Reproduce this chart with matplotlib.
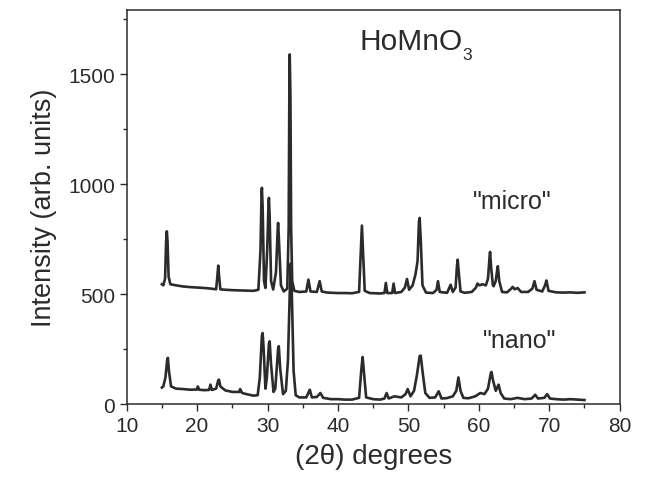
import matplotlib
matplotlib.use("Agg")
import matplotlib.pyplot as plt
from matplotlib.ticker import MultipleLocator

# XRD pattern of the "micro" sample (2theta, intensity)
micro_x = [15.0, 15.2, 15.45, 15.6, 15.7, 15.8, 15.95, 16.2, 17.0, 18.0, 19.0, 20.0,
           21.0, 22.0, 22.7, 22.9, 23.0, 23.1, 23.3, 24.0, 25.0, 26.0, 27.0, 28.0,
           28.7, 29.0, 29.15, 29.2, 29.3, 29.5, 29.7, 29.95, 30.15, 30.2, 30.3, 30.5,
           30.8, 31.2, 31.45, 31.5, 31.6, 31.9, 32.3, 32.8, 33.0, 33.1, 33.15, 33.25,
           33.35, 33.5, 33.8, 34.5, 35.5, 35.8, 36.1, 37.0, 37.4, 37.7, 38.5, 40.0,
           41.0, 42.0, 43.0, 43.25, 43.4, 43.55, 43.8, 44.5, 46.0, 46.6, 46.8, 47.0,
           47.7, 47.9, 48.1, 49.0, 49.5, 49.8, 50.1, 50.6, 51.0, 51.3, 51.5, 51.6,
           51.75, 52.0, 52.5, 53.5, 54.0, 54.2, 54.45, 55.5, 56.0, 56.3, 56.7, 56.9,
           57.0, 57.15, 57.4, 58.0, 59.0, 59.6, 59.8, 60.1, 60.5, 61.0, 61.3, 61.55,
           61.6, 61.75, 62.0, 62.1, 62.4, 62.65, 62.7, 62.9, 63.3, 64.0, 64.6, 64.8,
           65.1, 65.5, 66.0, 67.0, 67.6, 67.9, 68.2, 69.0, 69.4, 69.6, 69.9, 71.0,
           72.0, 73.0, 74.0, 75.0]
micro_y = [545, 540, 570, 740, 786, 740, 580, 545, 540, 535, 532, 530,
           528, 525, 522, 590, 630, 590, 522, 520, 518, 517, 516, 515,
           520, 700, 960, 984, 900, 560, 528, 700, 920, 938, 850, 560,
           521, 600, 800, 824, 760, 540, 512, 525, 800, 1450, 1591, 1400,
           800, 560, 515, 510, 512, 566, 512, 510, 559, 512, 507, 505,
           505, 504, 510, 700, 812, 700, 515, 505, 503, 505, 551, 505,
           505, 548, 505, 510, 530, 569, 520, 540, 589, 650, 830, 847,
           750, 540, 507, 505, 520, 559, 510, 506, 543, 510, 530, 630,
           657, 600, 512, 506, 510, 530, 548, 540, 545, 540, 570, 680,
           692, 620, 540, 536, 560, 620, 627, 560, 510, 508, 525, 533,
           522, 528, 510, 510, 525, 559, 520, 512, 540, 562, 515, 508,
           507, 508, 506, 508]

# XRD pattern of the "nano" sample
nano_x = [15.0, 15.2, 15.5, 15.75, 15.85, 16.0, 16.3, 17.0, 18.0, 19.0, 20.0, 20.1,
          20.3, 21.0, 21.7, 21.9, 22.1, 22.7, 23.0, 23.1, 23.3, 24.0, 25.0, 26.0,
          26.1, 26.4, 27.0, 28.0, 28.6, 28.9, 29.2, 29.3, 29.45, 29.7, 29.9, 30.2,
          30.3, 30.5, 30.85, 31.1, 31.5, 31.6, 31.8, 32.2, 32.6, 32.9, 33.15, 33.3,
          33.45, 33.7, 34.0, 34.5, 35.5, 36.0, 36.3, 37.0, 37.5, 37.9, 39.0, 40.0,
          41.0, 42.0, 43.0, 43.3, 43.5, 43.7, 44.0, 45.0, 46.0, 46.6, 46.9, 47.2,
          48.0, 49.0, 49.6, 49.9, 50.3, 50.8, 51.2, 51.6, 51.75, 52.0, 52.4, 53.0,
          53.8, 54.3, 54.7, 55.5, 56.3, 56.8, 57.1, 57.4, 57.8, 58.5, 59.5, 60.2,
          60.8, 61.3, 61.7, 61.8, 62.0, 62.4, 62.8, 63.1, 63.6, 64.5, 65.5, 66.5,
          67.5, 68.0, 68.4, 69.3, 69.7, 70.1, 71.0, 72.0, 73.0, 74.0, 75.0]
nano_y = [75, 80, 120, 200, 210, 150, 80, 70, 68, 65, 66, 80,
          65, 63, 64, 88, 64, 70, 108, 111, 80, 62, 55, 55,
          68, 50, 45, 38, 40, 120, 310, 323, 250, 70, 120, 275,
          285, 180, 55, 70, 250, 263, 160, 45, 60, 200, 500, 640,
          500, 150, 40, 30, 30, 65, 30, 32, 50, 28, 22, 22,
          20, 20, 28, 150, 214, 140, 30, 22, 20, 25, 50, 25,
          35, 30, 45, 68, 35, 60, 130, 218, 220, 150, 50, 28,
          30, 58, 25, 27, 35, 60, 121, 60, 28, 26, 35, 50,
          45, 70, 140, 146, 110, 60, 88, 50, 25, 22, 28, 22,
          25, 42, 25, 28, 45, 25, 22, 20, 22, 20, 18]

plt.rcParams['font.family'] = ['Liberation Sans', 'DejaVu Sans']

ink = '#2b2b2b'
fig = plt.figure(figsize=(6.48, 4.81), dpi=100)
ax = fig.add_axes([0.1955, 0.158, 0.7608, 0.820])

ax.plot(micro_x, micro_y, color=ink, lw=1.9, solid_joinstyle='round')
ax.plot(nano_x, nano_y, color=ink, lw=1.9, solid_joinstyle='round')

ax.set_xlim(10, 80)
ax.set_ylim(0, 1795)
ax.xaxis.set_major_locator(MultipleLocator(10))
ax.xaxis.set_minor_locator(MultipleLocator(5))
ax.yaxis.set_major_locator(MultipleLocator(500))
ax.yaxis.set_minor_locator(MultipleLocator(250))

ax.tick_params(which='both', direction='out', colors=ink, width=1.0,
               labelsize=15, top=False, right=False)
ax.tick_params(which='major', length=5)
ax.tick_params(which='minor', length=3)
for sp in ax.spines.values():
    sp.set_color(ink)
    sp.set_linewidth(1.1)

ax.set_xlabel('(2θ) degrees', fontsize=20, color=ink, labelpad=6)
ax.set_ylabel('Intensity (arb. units)', fontsize=19.5, color=ink, labelpad=8)

# formula label with a low-set subscript, as in the original
ax.text(43.1, 1614, 'HoMnO', fontsize=21.5, color=ink, ha='left', va='baseline')
ax.text(57.7, 1568, '3', fontsize=12.5, color=ink, ha='left', va='baseline')
ax.text(64.8, 894, '"micro"', fontsize=18, color=ink, ha='center', va='baseline')
ax.text(65.8, 260, '"nano"', fontsize=18, color=ink, ha='center', va='baseline')

fig.savefig('out.png', dpi=100)
